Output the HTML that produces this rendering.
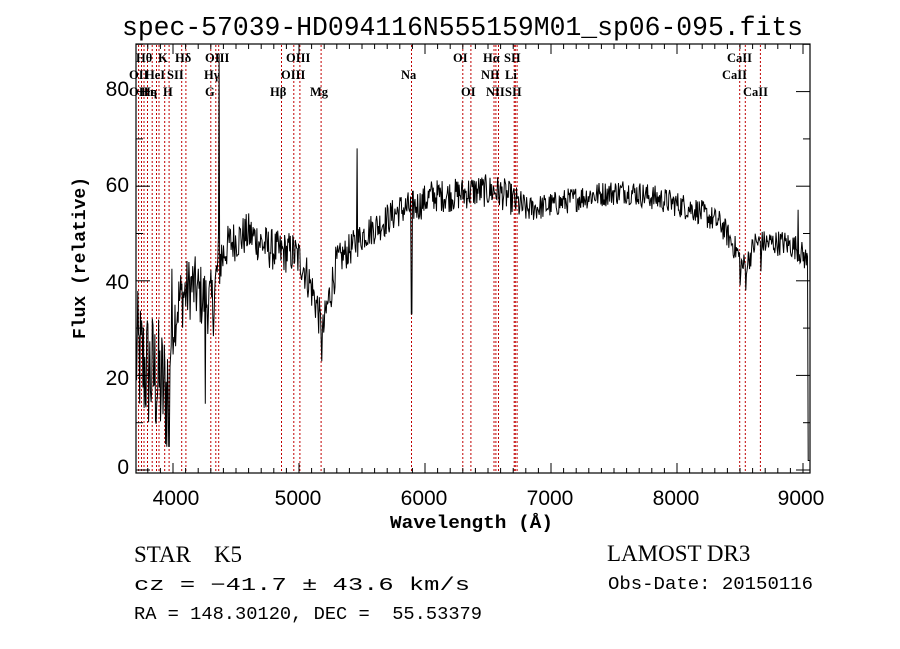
<!DOCTYPE html>
<html><head><meta charset="utf-8"><style>
body{margin:0;background:#fff;}
svg{display:block;}
text{font-family:"Liberation Serif",serif;fill:#000;}
text.t{font-family:"Liberation Sans",sans-serif;font-size:21px;}
.l{font-size:12.5px;font-weight:bold;}
text.m{font-family:"Liberation Mono",monospace;}
</style></head><body>
<svg id="s" width="900" height="649" viewBox="0 0 900 649" xmlns="http://www.w3.org/2000/svg">
<text x="122" y="35" textLength="681" lengthAdjust="spacingAndGlyphs" style="font-size:27px" class="m">spec-57039-HD094116N555159M01_sp06-095.fits</text>
<g id="red" stroke="#c00000" stroke-width="1" stroke-dasharray="2,2"></g>
<path id="spec" fill="none" stroke="#000" stroke-width="1"/>
<rect x="136" y="44" width="674" height="429" fill="none" stroke="#000" stroke-width="1.2"/>
<g id="ticks" stroke="#000" stroke-width="1"></g>
<text class="t" x="176" y="505" text-anchor="middle">4000</text>
<text class="t" x="298" y="505" text-anchor="middle">5000</text>
<text class="t" x="424" y="505" text-anchor="middle">6000</text>
<text class="t" x="550" y="505" text-anchor="middle">7000</text>
<text class="t" x="676" y="505" text-anchor="middle">8000</text>
<text class="t" x="801" y="505" text-anchor="middle">9000</text>
<text class="t" x="129" y="474" text-anchor="end">0</text>
<text class="t" x="129" y="385" text-anchor="end">20</text>
<text class="t" x="129" y="289" text-anchor="end">40</text>
<text class="t" x="129" y="192" text-anchor="end">60</text>
<text class="t" x="129" y="96" text-anchor="end">80</text>
<text x="390" y="528" textLength="163" lengthAdjust="spacingAndGlyphs" class="m" style="font-size:18px;font-weight:bold">Wavelength (Å)</text>
<text transform="translate(85,258) rotate(-90)" text-anchor="middle" class="m" style="font-size:18px;font-weight:bold">Flux (relative)</text>
<g class="l">
<text x="136" y="62">Hθ</text><text x="158" y="62">K</text><text x="175" y="62">Hδ</text><text x="205" y="62">OIII</text><text x="286" y="62">OIII</text><text x="453" y="62">OI</text><text x="483" y="62">Hα</text><text x="504" y="62">SII</text><text x="727" y="62">CaII</text>
<text x="129" y="79">OII</text><text x="145" y="79">HeI</text><text x="167" y="79">SII</text><text x="204" y="79">Hγ</text><text x="281" y="79">OIII</text><text x="401" y="79">Na</text><text x="481" y="79">NII</text><text x="505" y="79">Li</text><text x="722" y="79">CaII</text>
<text x="129" y="96">OII</text><text x="141" y="96">Hε</text><text x="150" y="96">η</text><text x="163" y="96">H</text><text x="205" y="96">G</text><text x="270" y="96">Hβ</text><text x="310" y="96">Mg</text><text x="461" y="96">OI</text><text x="486" y="96">NII</text><text x="505" y="96">SII</text><text x="743" y="96">CaII</text>
</g>
<text x="134" y="562" style="font-size:23px">STAR&#160;&#160;&#160;&#160;K5</text>
<text x="134" y="590" textLength="336" lengthAdjust="spacingAndGlyphs" class="m" style="font-size:18px">cz = −41.7 ± 43.6 km/s</text>
<text x="134" y="619" textLength="348" lengthAdjust="spacingAndGlyphs" class="m" style="font-size:18px">RA = 148.30120, DEC =&#160;&#160;55.53379</text>
<text x="607" y="561" style="font-size:23px">LAMOST DR3</text>
<text x="608" y="589" textLength="205" lengthAdjust="spacingAndGlyphs" class="m" style="font-size:18px">Obs-Date: 20150116</text>
</svg>
<script>
var NS="http://www.w3.org/2000/svg";
function X(l){return 173+(l-4000)*0.126;}
function Y(f){return 470-f*4.73;}
var red=document.getElementById("red");
[3727,3750,3770,3798,3835,3869,3889,3934,3969,4069,4102,4300,4340,4363,4861,4959,5007,5175,5893,6300,6364,6548,6563,6583,6708,6717,6731,8498,8542,8662].forEach(function(l){
 var e=document.createElementNS(NS,"line");var x=X(l).toFixed(1);
 e.setAttribute("x1",x);e.setAttribute("x2",x);e.setAttribute("y1",45);e.setAttribute("y2",472);red.appendChild(e);});
var tk=document.getElementById("ticks");
function ln(a,b,c,d){var e=document.createElementNS(NS,"line");e.setAttribute("x1",a);e.setAttribute("y1",b);e.setAttribute("x2",c);e.setAttribute("y2",d);tk.appendChild(e);}
for(var l=3800;l<=9000;l+=100){var x=X(l),len=(l%1000==0)?10:5;ln(x,473,x,473-len);ln(x,44,x,44+len);}
for(var f=0;f<=90;f+=10){var y=Y(f),len=(f%20==0)?14:7;ln(136,y,136+len,y);ln(810,y,810-len,y);}
var K=[[3700,25],[3760,22],[3850,20],[3950,16],[3990,30],[4050,36],[4150,39],[4250,36],[4320,35],[4360,44],[4450,48],[4600,50],[4750,47],[4850,46],[4950,46],[5020,44],[5080,40],[5150,34],[5185,28],[5220,34],[5300,44],[5420,47],[5520,50],[5650,52],[5800,55],[5950,56],[6050,58],[6200,58],[6400,59],[6560,59],[6650,58],[6800,55],[7000,56],[7300,58],[7600,59],[7900,57],[8150,55],[8350,52],[8480,46],[8520,43],[8560,44],[8620,48],[8700,48],[8850,48],[8950,47],[9010,45],[9040,44],[9055,30]];
function cont(l){for(var i=0;i<K.length-1;i++){if(l<=K[i+1][0]){var t=(l-K[i][0])/(K[i+1][0]-K[i][0]);return K[i][1]+t*(K[i+1][1]-K[i][1]);}}return K[K.length-1][1];}
var s=12345;function r(){s=(s*1103515245+12345)%2147483648;return s/2147483648-0.5;}
var d="";
for(var l=3706;l<=9052;l+=5){
 var f=cont(l);var a=l<4000?28:(l<4400?14:(l<5300?9:(l<6800?7:5.5)));
 f+=r()*a;
 if(Math.abs(l-4368)<3)f=88;
 if(Math.abs(l-5462)<3)f=68;
 if(Math.abs(l-5893)<4)f=33;
 if(Math.abs(l-5180)<4)f=23;
 if(Math.abs(l-4255)<3)f=14;
 if(Math.abs(l-3968)<4)f=5;
 if(Math.abs(l-8500)<4)f=39;
 if(Math.abs(l-8545)<4)f=38;
 if(Math.abs(l-8665)<4)f=42;
 if(Math.abs(l-8960)<3)f=55;
 if(l>9040)f=2;
 if(f<1)f=1;
 d+=(d?"L":"M")+X(l).toFixed(1)+","+Y(f).toFixed(1);
}
document.getElementById("spec").setAttribute("d",d);
</script>
</body></html>
